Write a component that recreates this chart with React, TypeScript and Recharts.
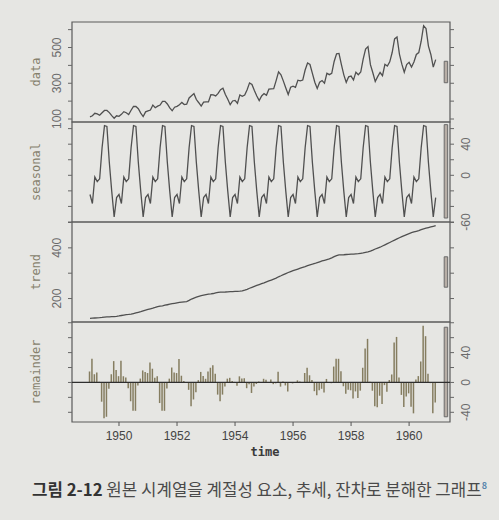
import React from 'react';
import { ComposedChart, Line, Bar, XAxis, YAxis, ReferenceArea, ReferenceLine } from 'recharts';

// monthly passengers, 1949-01 .. 1960-12
const passengers = [
  112, 118, 132, 129, 121, 135, 148, 148, 136, 119, 104, 118,
  115, 126, 141, 135, 125, 149, 170, 170, 158, 133, 114, 140,
  145, 150, 178, 163, 172, 178, 199, 199, 184, 162, 146, 166,
  171, 180, 193, 181, 183, 218, 230, 242, 209, 191, 172, 194,
  196, 196, 236, 235, 229, 243, 264, 272, 237, 211, 180, 201,
  204, 188, 235, 227, 234, 264, 302, 293, 259, 229, 203, 229,
  242, 233, 267, 269, 270, 315, 364, 347, 312, 274, 237, 278,
  284, 277, 317, 313, 318, 374, 413, 405, 355, 306, 271, 306,
  315, 301, 356, 348, 355, 422, 465, 467, 404, 347, 305, 336,
  340, 318, 362, 348, 363, 435, 491, 505, 404, 359, 310, 337,
  360, 342, 406, 396, 420, 472, 548, 559, 463, 407, 362, 405,
  417, 391, 419, 461, 472, 535, 622, 606, 508, 461, 390, 432,
];

// periodic seasonal component, Jan..Dec
const seasonalByMonth = [-24.7, -36.2, -2.2, -8.0, -4.5, 35.4, 63.8, 62.8, 16.5, -20.6, -53.6, -28.6];

const trend = [
  122.0, 122.6, 123.2, 123.8, 124.4, 125.4, 126.8, 127.3, 128.0, 128.6, 129.0, 129.8,
  131.3, 133.1, 134.9, 136.4, 137.4, 138.8, 140.9, 143.2, 145.7, 148.4, 151.5, 154.7,
  157.1, 159.5, 161.8, 164.8, 168.3, 170.2, 171.3, 173.6, 175.5, 177.5, 179.6, 181.3,
  183.1, 184.8, 186.2, 187.2, 188.0, 192.5, 198.0, 202.0, 205.5, 208.5, 211.5, 213.8,
  215.8, 217.6, 218.5, 219.8, 222.0, 223.9, 225.3, 225.5, 225.8, 226.5, 227.4, 227.6,
  228.0, 228.5, 229.0, 229.8, 232.9, 236.3, 240.5, 244.3, 248.0, 251.7, 255.2, 258.5,
  261.8, 265.7, 269.3, 273.0, 276.8, 280.8, 285.8, 289.8, 294.2, 298.6, 302.8, 306.5,
  310.0, 313.1, 316.4, 319.6, 322.8, 325.9, 329.5, 332.6, 335.3, 338.3, 341.9, 345.0,
  348.2, 350.8, 353.5, 356.2, 360.5, 365.3, 369.5, 372.5, 372.4, 372.7, 373.7, 374.4,
  375.2, 375.6, 376.2, 377.0, 378.5, 379.9, 381.8, 383.8, 386.7, 390.7, 395.4, 399.0,
  402.5, 407.2, 411.8, 416.5, 421.2, 425.9, 430.7, 435.2, 439.8, 444.3, 448.4, 452.4,
  456.3, 459.8, 462.6, 465.2, 468.0, 471.5, 475.0, 477.5, 480.0, 482.5, 485.0, 487.5,
];

const remainder = [
  14.7, 31.6, 11.0, 13.2, 1.1, -25.8, -48.0, -46.0, -8.5, 11.0, 28.6, 16.8,
  8.4, 29.1, 8.3, 6.6, -7.9, -25.2, -38.0, -38.0, -4.2, 5.2, 16.1, 13.9,
  12.6, 26.7, 18.4, 6.2, 8.2, -27.6, -38.0, -38.0, -8.0, 5.1, 20.0, 13.3,
  12.6, 31.4, 9.0, 1.8, -0.5, -9.9, -31.8, -22.8, -13.0, 3.1, 14.1, 8.8,
  4.9, 14.6, 19.7, 23.2, 11.5, -16.3, -25.1, -16.3, -5.3, 5.1, 6.2, 2.0,
  0.7, -4.3, 8.2, 5.2, 5.6, -7.7, -2.3, -14.1, -5.5, -2.1, 1.4, -0.9,
  4.9, 3.5, -0.1, 4.0, -2.3, -1.2, 14.4, -5.6, 1.3, -4.0, -12.2, 0.1,
  -1.3, 0.1, 2.8, 1.4, -0.3, 12.7, 19.7, 9.6, 3.2, -11.7, -17.3, -10.4,
  -8.5, -13.6, 4.7, -0.2, -1.0, 21.3, 31.7, 31.7, 15.1, -5.1, -15.1, -9.8,
  -10.5, -21.4, -12.0, -21.0, -11.0, 19.7, 45.4, 58.4, 0.8, -11.1, -31.8, -33.4,
  -17.8, -29.0, -3.6, -12.5, 3.3, 10.7, 53.5, 61.0, 6.7, -16.7, -32.8, -18.8,
  -14.6, -32.6, -41.4, 3.8, 8.5, 28.1, 76.0, 62.0, 11.5, -0.9, -41.4, -26.9,
];

const yearTicks = [1950, 1952, 1954, 1956, 1958, 1960];

const rows = passengers.map((v, i) => ({
  t: 1949 + i / 12,
  data: v,
  seasonal: seasonalByMonth[i % 12],
  trend: trend[i],
  remainder: remainder[i],
}));

const X_DOMAIN: [number, number] = [1948.38, 1961.41];
const BAR_X: [number, number] = [1961.21, 1961.33];
const BAR_HALF = 60;

const BG = '#e6e6e3';
const LINE = '#505050';
const MONO = '"DejaVu Sans Mono", "Liberation Mono", monospace';
const SANS = '"Liberation Sans", Arial, sans-serif';

const panels = [
  { key: 'data', domain: [83.3, 642.7], ticks: [100, 200, 300, 400, 500, 600], labels: [100, 300, 500], side: 'left' },
  { key: 'seasonal', domain: [-60, 68.5], ticks: [-60, -40, -20, 0, 20, 40, 60], labels: [-60, 0, 40], side: 'right' },
  { key: 'trend', domain: [107.4, 502], ticks: [200, 300, 400, 500], labels: [200, 400], side: 'left' },
  { key: 'remainder', domain: [-53, 81], ticks: [-40, -20, 0, 20, 40, 60, 80], labels: [-40, 0, 40], side: 'right' },
];

const RotTick = (props: any) => {
  const { x, y, payload, labels, dx } = props;
  if (!labels.includes(payload.value)) return <g />;
  const cx = x + dx;
  return (
    <text x={cx} y={y} dy="0.36em" transform={`rotate(-90 ${cx} ${y})`} textAnchor="middle"
      fontSize={12} fill="#6b6b6b" fontFamily={SANS}>
      {payload.value}
    </text>
  );
};

const AxisTitle = (props: any) => {
  const vb = props.viewBox || { x: 0, y: 0, width: 72, height: 100 };
  const cx = 36;
  const cy = vb.y + vb.height / 2;
  return (
    <text x={cx} y={cy} dy="0.36em" transform={`rotate(-90 ${cx} ${cy})`} textAnchor="middle"
      fontSize={12} fill="#857f6c" fontFamily={MONO}>
      {props.text}
    </text>
  );
};

const TimeLabel = (props: any) => {
  const vb = props.viewBox || { x: 72, y: 100, width: 378, height: 42 };
  return (
    <text x={vb.x + vb.width / 2 + 4} y={134} textAnchor="middle" fontSize={12} fontWeight="bold"
      fill="#3a3a3a" fontFamily={MONO}>
      time
    </text>
  );
};

const Panel = ({ p, last }: { p: any; last: boolean }) => {
  const vals = rows.map((r: any) => r[p.key]);
  const mid = (Math.min(...vals) + Math.max(...vals)) / 2;
  return (
    <ComposedChart width={499} height={last ? 142 : 100} data={rows}
      margin={{ top: 0, right: 0, bottom: 0, left: 0 }}>
      <XAxis dataKey="t" type="number" domain={X_DOMAIN} allowDataOverflow hide={!last}
        ticks={yearTicks} interval={0} axisLine={false} tickSize={4} tickMargin={5} height={42}
        tickLine={{ stroke: '#555' }} tick={{ fontSize: 12, fill: '#444', fontFamily: SANS }}
        label={<TimeLabel />} />
      <YAxis yAxisId="left" orientation="left" width={72} type="number" domain={p.domain}
        allowDataOverflow ticks={p.ticks} interval={0} axisLine={false} tickSize={4} tickLine={{ stroke: '#666' }}
        tick={<RotTick labels={p.side === 'left' ? p.labels : []} dx={-9} />}
        label={<AxisTitle text={p.key} />} />
      <YAxis yAxisId="right" orientation="right" width={49} type="number" domain={p.domain}
        allowDataOverflow ticks={p.ticks} interval={0} axisLine={false} tickSize={4} tickLine={{ stroke: '#666' }}
        tick={<RotTick labels={p.side === 'right' ? p.labels : []} dx={10} />} />
      <ReferenceArea yAxisId="left" x1={X_DOMAIN[0]} x2={X_DOMAIN[1]} y1={p.domain[0]} y2={p.domain[1]}
        fill="none" stroke="#5a5a5a" strokeWidth={1.2} ifOverflow="visible" />
      <ReferenceArea yAxisId="left" x1={BAR_X[0]} x2={BAR_X[1]} y1={mid - BAR_HALF} y2={mid + BAR_HALF}
        fill="#b7aea6" fillOpacity={1} stroke="#6a6a6a" strokeWidth={1} ifOverflow="visible" />
      {p.key === 'remainder' ? (
        <>
          <Bar yAxisId="left" dataKey="remainder" barSize={1.5} fill="#857d60" isAnimationActive={false} />
          <ReferenceLine yAxisId="left" y={0} stroke="#2f2f2f" strokeWidth={1.2} />
        </>
      ) : (
        <Line yAxisId="left" type="linear" dataKey={p.key} stroke={LINE} strokeWidth={1.3}
          dot={false} isAnimationActive={false} />
      )}
    </ComposedChart>
  );
};

export default function App() {
  return (
    <div style={{ position: 'absolute', left: 0, top: 0, width: 499, height: 520, background: BG, overflow: 'hidden' }}>
      <style>{'svg.recharts-surface { overflow: visible; }'}</style>
      <div style={{ position: 'absolute', left: 0, top: 22 }}>
        {panels.map((p, i) => (
          <Panel key={p.key} p={p} last={i === panels.length - 1} />
        ))}
      </div>
      <div style={{
        position: 'absolute', left: 32, top: 477, whiteSpace: 'nowrap',
        fontFamily: '"Noto Sans CJK KR", "Noto Sans", sans-serif', fontSize: 16.8, color: '#4a4a4a',
      }}>
        <span style={{ fontWeight: 'bold', color: '#333' }}>그림 2-12</span> 원본 시계열을 계절성 요소, 추세, 잔차로 분해한 그래프
        <sup style={{ fontSize: 9, color: '#5a86ad', fontWeight: 'bold' }}>8</sup>
      </div>
    </div>
  );
}
